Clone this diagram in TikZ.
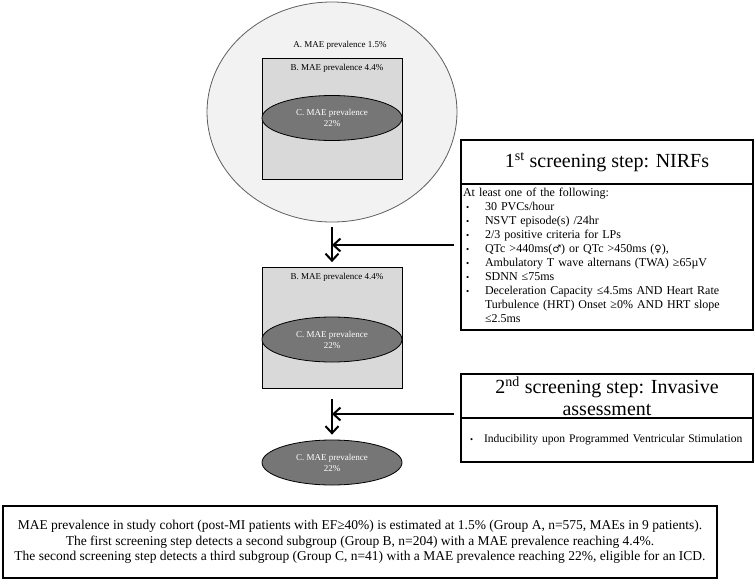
\documentclass[tikz,border=0pt]{standalone}
\usepackage{fontspec}
\usepackage{graphicx}
\setmainfont{Liberation Serif}
\newfontfamily\symfont{DejaVu Serif}
\usetikzlibrary{arrows.meta,shapes.geometric}
\definecolor{cA}{RGB}{242,242,242}
\definecolor{cAline}{RGB}{95,95,95}
\definecolor{cB}{RGB}{217,217,217}
\definecolor{cC}{RGB}{118,118,118}
\newcommand{\bul}{\raisebox{0.5pt}{\scalebox{0.75}{\textbullet}}}
\begin{document}
\begin{tikzpicture}[x=1pt,y=-1pt,
  arr/.style={line width=2pt,-{Straight Barb[length=7pt,width=13pt]}},
  popA/.style={ellipse,draw=cAline,line width=0.8pt,fill=cA,minimum width=250pt,minimum height=220pt,inner sep=0pt},
  popB/.style={draw=black,line width=0.8pt,fill=cB,minimum width=140pt,minimum height=121pt,inner sep=0pt},
  popC/.style={ellipse,draw=black,line width=0.8pt,fill=cC,minimum width=140pt,minimum height=45pt,inner sep=0pt,text=white,font=\fontsize{9}{11}\selectfont,align=center},
  lab/.style={font=\fontsize{9}{11}\selectfont,inner sep=0pt},
  headbox/.style={draw,line width=2pt,minimum width=292pt,minimum height=44pt,inner sep=0pt,font=\fontsize{20}{22}\selectfont,align=center},
  bodybox/.style={draw,line width=2pt,minimum width=292pt,inner sep=0pt,inner xsep=2pt,text width=288pt,align=left,font=\fontsize{12}{14}\selectfont},
  notebox/.style={draw,line width=2.5pt,minimum width=714pt,minimum height=72pt,inner sep=0pt,align=center,font=\fontsize{13.5}{15.5}\selectfont}
]
\useasboundingbox (0,0) rectangle (755,582);

% population A with nested B and C
\node[popA] (A) at (332,112) {};
\node[lab] (labA) at (340,45) {A. MAE prevalence 1.5\%};
\node[popB] (B1) at (332,119) {};
\node[lab] (labB1) at (337,68) {B. MAE prevalence 4.4\%};
\node[popC] (C1) at (332,118) {C. MAE prevalence\\22\%};

% population B with nested C
\node[popB] (B2) at (332,328) {};
\node[lab] (labB2) at (337,277) {B. MAE prevalence 4.4\%};
\node[popC] (C2) at (332,339.5) {C. MAE prevalence\\22\%};

% population C
\node[popC] (C3) at (332,462.5) {C. MAE prevalence\\22\%};

% first screening step
\node[headbox] (h1) at (607,162) {1\textsuperscript{st} screening step: NIRFs};
\node[bodybox,minimum height=146pt] (b1) at (607,257) {%
\begin{tabular}{@{}l@{}l@{}}
\multicolumn{2}{@{}l@{}}{At least one of the following:}\\
\makebox[22pt][l]{\hspace{3pt}\bul} & 30 PVCs/hour\\
\makebox[22pt][l]{\hspace{3pt}\bul} & NSVT episode(s) /24hr\\
\makebox[22pt][l]{\hspace{3pt}\bul} & 2/3 positive criteria for LPs\\
\makebox[22pt][l]{\hspace{3pt}\bul} & QTc >440ms({\symfont\fontsize{10}{12}\selectfont ♂}) or QTc >450ms ({\symfont\fontsize{10}{12}\selectfont ♀}),\\
\makebox[22pt][l]{\hspace{3pt}\bul} & Ambulatory T wave alternans (TWA) ≥65µV\\
\makebox[22pt][l]{\hspace{3pt}\bul} & SDNN ≤75ms\\
\makebox[22pt][l]{\hspace{3pt}\bul} & Deceleration Capacity ≤4.5ms AND Heart Rate\\
 & Turbulence (HRT) Onset ≥0\% AND HRT slope\\
 & ≤2.5ms
\end{tabular}};

% second screening step
\node[headbox] (h2) at (607,396) {2\textsuperscript{nd} screening step: Invasive\\assessment};
\node[bodybox,minimum height=44pt,font=\fontsize{11.6}{14}\selectfont] (b2) at (607,440) {%
\begin{tabular}{@{}l@{}l@{}}
\makebox[21pt][l]{\hspace{7pt}\bul} & Inducibility upon Programmed Ventricular Stimulation
\end{tabular}};

% arrows
\coordinate (j1) at (332,245);
\coordinate (j2) at (332,414);
\draw[arr,shorten <=5pt,shorten >=5pt] (A.south) -- (B2.north);
\draw[arr,shorten <=6pt] (b1.west |- j1) -- (j1);
\draw[arr,shorten <=10pt,shorten >=5pt] (B2.south) -- (C3.north);
\draw[arr,shorten <=6pt] (h2.west |- j2) -- (j2);

% summary
\node[notebox] (note) at (360,542) {MAE prevalence in study cohort (post-MI patients with EF≥40\%) is estimated at 1.5\% (Group A, n=575, MAEs in 9 patients).\\
The first screening step detects a second subgroup (Group B, n=204) with a MAE prevalence reaching 4.4\%.\\
The second screening step detects a third subgroup (Group C, n=41) with a MAE prevalence reaching 22\%, eligible for an ICD.};
\end{tikzpicture}
\end{document}
